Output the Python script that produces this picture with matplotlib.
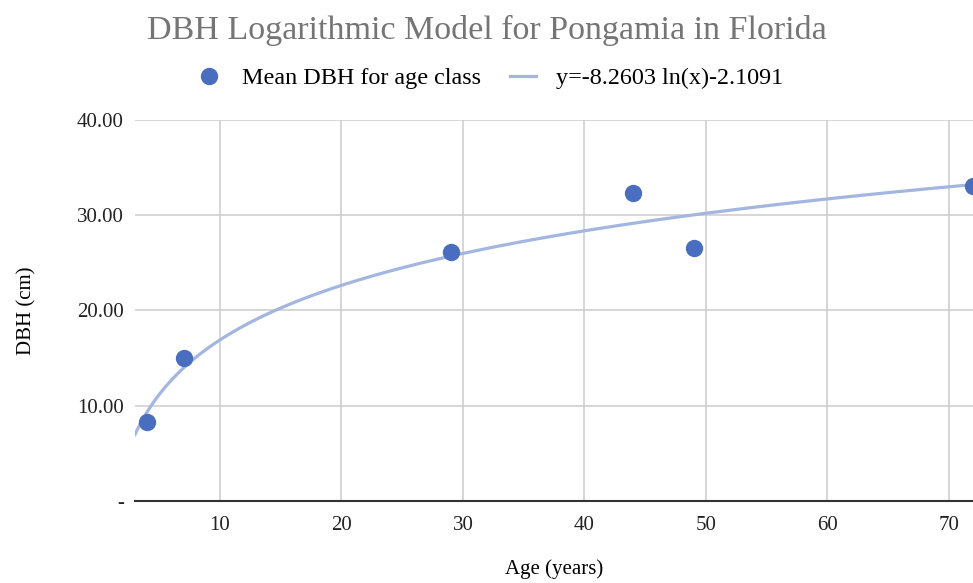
import numpy as np
import matplotlib
import matplotlib.pyplot as plt
from matplotlib.ticker import FuncFormatter

matplotlib.rcParams['font.family'] = 'Liberation Serif'

# mean DBH per age class
age = [4, 7, 29, 44, 49, 72]
dbh = [8.3, 15.0, 26.1, 32.3, 26.6, 33.1]

# log trendline coefficients (as shown in the legend)
coef_a = 8.2603
coef_b = -2.1091
trend_label = 'y=-8.2603 ln(x)-2.1091'

x_ticks = [10, 20, 30, 40, 50, 60, 70]
y_ticks = [0, 10, 20, 30, 40]

fig = plt.figure(figsize=(9.73, 5.83), dpi=100)
ax = fig.add_axes([0.1387, 0.1407, 0.8613, 0.6535])

xs = np.linspace(3, 72, 300)
ax.plot(xs, coef_a * np.log(xs) + coef_b, color='#a3b6e0', lw=2.3,
        label=trend_label, zorder=2)
ax.plot(age, dbh, 'o', color='#4a6ebf', markersize=12.5, markeredgewidth=0,
        label='Mean DBH for age class', zorder=3, clip_on=False)

ax.set_xlim(3, 72)
ax.set_ylim(0, 40)
ax.set_xticks(x_ticks)
ax.set_yticks(y_ticks)
ax.yaxis.set_major_formatter(FuncFormatter(lambda v, p: '-' if v == 0 else '%.2f' % v))
ax.grid(True, color='#cccccc', lw=1.1)
ax.set_axisbelow(True)
for s in ['top', 'right', 'left']:
    ax.spines[s].set_visible(False)
ax.spines['bottom'].set_color('#333333')
ax.spines['bottom'].set_linewidth(1.5)
ax.spines['bottom'].set_zorder(4)
ax.tick_params(length=0, labelsize=15, colors='#222222', pad=8)
ax.tick_params(axis='x', pad=11)

ax.set_xlabel('Age (years)', fontsize=15, labelpad=17)
ax.set_ylabel('DBH (cm)', fontsize=15, labelpad=29)

fig.text(0.5, 0.948, 'DBH Logarithmic Model for Pongamia in Florida',
         ha='center', va='center', fontsize=24.5, color='#757575')

h, l = ax.get_legend_handles_labels()
fig.legend(h[::-1], l[::-1], loc='center', bbox_to_anchor=(0.503, 0.866), ncol=2,
           frameon=False, fontsize=17.4, handlelength=1.1, columnspacing=1.2,
           handletextpad=0.8)

fig.savefig('out.png', dpi=100)
